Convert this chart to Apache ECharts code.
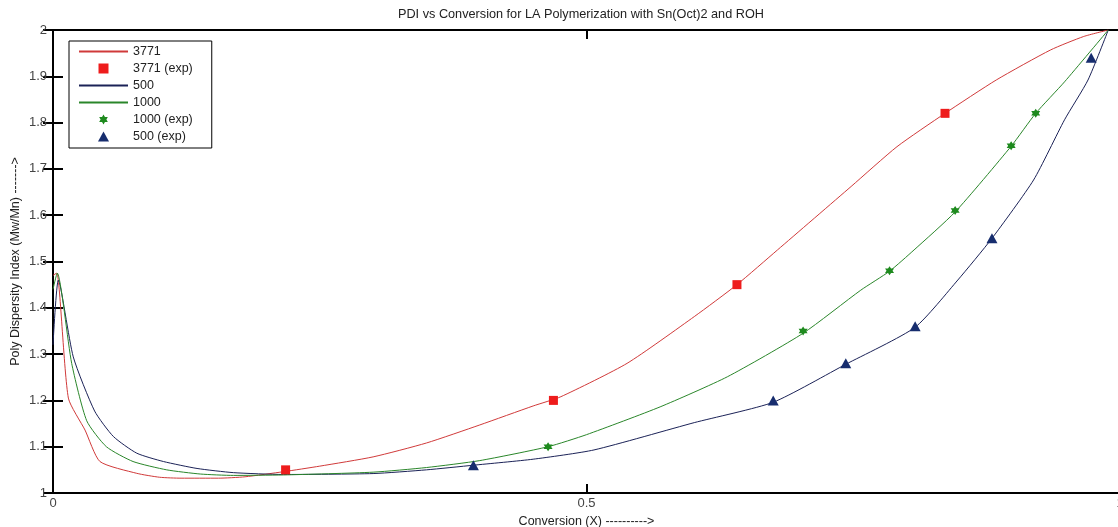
<!DOCTYPE html>
<html>
<head>
<meta charset="utf-8">
<style>
  html, body { margin: 0; padding: 0; background: #fff; }
  #chart { width: 1118px; height: 527px; }
</style>
<script src="https://cdn.jsdelivr.net/npm/echarts@6/dist/echarts.min.js"></script>
</head>
<body>
<div id="chart"></div>
<script>
// Model curves: PDI vs conversion for three [M]/[I] ratios
const x3771 = [0, 0.0035, 0.0144, 0.030, 0.044, 0.0785, 0.100, 0.120, 0.155, 0.180, 0.216, 0.250, 0.300, 0.350, 0.400, 0.450, 0.476, 0.538, 0.601, 0.641, 0.679, 0.748, 0.791, 0.836, 0.884, 0.935, 0.966, 0.989];
const y3771 = [1.47, 1.475, 1.205, 1.136, 1.068, 1.0425, 1.034, 1.032, 1.032, 1.035, 1.046, 1.058, 1.078, 1.108, 1.147, 1.188, 1.208, 1.280, 1.381, 1.450, 1.525, 1.662, 1.748, 1.820, 1.892, 1.957, 1.986, 2.000];

const x1000 = [0, 0.004, 0.0175, 0.0316, 0.050, 0.075, 0.1066, 0.138, 0.169, 0.216, 0.300, 0.350, 0.400, 0.464, 0.500, 0.569, 0.632, 0.703, 0.757, 0.784, 0.807, 0.8455, 0.898, 0.921, 0.948, 0.989];
const y1000 = [1.44, 1.475, 1.280, 1.156, 1.100, 1.068, 1.050, 1.041, 1.038, 1.039, 1.045, 1.055, 1.070, 1.100, 1.126, 1.186, 1.251, 1.345, 1.438, 1.479, 1.525, 1.607, 1.749, 1.820, 1.888, 2.000];

const x500 = [0, 0.005, 0.019, 0.039, 0.0566, 0.0785, 0.1035, 0.135, 0.169, 0.216, 0.300, 0.350, 0.394, 0.450, 0.507, 0.601, 0.675, 0.743, 0.808, 0.848, 0.880, 0.919, 0.948, 0.970, 0.989];
const y500 = [1.32, 1.46, 1.294, 1.177, 1.122, 1.086, 1.068, 1.053, 1.044, 1.040, 1.042, 1.050, 1.060, 1.073, 1.093, 1.152, 1.196, 1.278, 1.358, 1.460, 1.550, 1.676, 1.806, 1.892, 2.000];

// Experimental points
const xExp3771 = [0.218, 0.469, 0.641, 0.836];
const yExp3771 = [1.05, 1.20, 1.45, 1.82];

const xExp1000 = [0.464, 0.703, 0.784, 0.8455, 0.898, 0.921];
const yExp1000 = [1.10, 1.35, 1.48, 1.61, 1.75, 1.82];

const xExp500 = [0.394, 0.675, 0.743, 0.808, 0.880, 0.973];
const yExp500 = [1.06, 1.20, 1.28, 1.36, 1.55, 1.94];

const seriesNames = ['3771', '3771 (exp)', '500', '1000', '1000 (exp)', '500 (exp)'];
const lineNames = ['3771', '500', '1000'];
const yTicks = [1, 1.1, 1.2, 1.3, 1.4, 1.5, 1.6, 1.7, 1.8, 1.9, 2];
const xTicks = [0, 0.5, 1];

const pairs = (xs, ys) => xs.map((x, i) => [x, ys[i]]);

const squarePath = 'path://M0,0 L10,0 L10,10 L0,10 Z';
const trianglePath = 'path://M5,0 L10.5,10 L-0.5,10 Z';
const starPath = 'path://M0,-10 L2.9,-5 L8.66,-5 L5.8,0 L8.66,5 L2.9,5 L0,10 L-2.9,5 L-8.66,5 L-5.8,0 L-8.66,-5 L-2.9,-5 Z';
const FONT = '"Liberation Sans", Arial, sans-serif';

const chart = echarts.init(document.getElementById('chart'), null, { renderer: 'canvas' });

const fmtY = v => {
  const hit = yTicks.find(t => Math.abs(t - v) < 1e-6);
  return hit === undefined ? '' : String(hit);
};
const fmtX = v => {
  const hit = xTicks.find(t => Math.abs(t - v) < 1e-6);
  return hit === undefined ? '' : String(hit);
};

const axisLine = { show: true, lineStyle: { color: '#000', width: 2 } };
const tickStyle = { color: '#000', width: 2 };

// Legend entries: model lines show only a stroke, experiments show their marker
const legendIcons = { '3771 (exp)': squarePath, '1000 (exp)': starPath, '500 (exp)': trianglePath };
const legendData = seriesNames.map(name =>
  lineNames.includes(name)
    ? { name, itemStyle: { color: 'rgba(0,0,0,0)', borderWidth: 0, opacity: 0 } }
    : { name, icon: legendIcons[name] }
);

const lineSeries = (name, xs, ys, color) => ({
  name, type: 'line', data: pairs(xs, ys),
  symbol: 'none', smooth: 0.2,
  lineStyle: { color, width: 1 }, itemStyle: { color }, z: 2
});

chart.setOption({
  animation: false,
  backgroundColor: '#fff',
  textStyle: { fontFamily: FONT },
  title: {
    text: 'PDI vs Conversion for LA Polymerization with Sn(Oct)2 and ROH',
    left: 398,
    top: 8,
    padding: 0,
    textStyle: { fontSize: 12.7, fontWeight: 'normal', color: '#222', fontFamily: FONT }
  },
  legend: {
    orient: 'vertical',
    left: 69,
    top: 41,
    padding: [4, 19, 5, 9],
    itemWidth: 49,
    itemHeight: 10,
    itemGap: 4,
    symbolKeepAspect: true,
    backgroundColor: '#fff',
    borderColor: '#000',
    borderWidth: 1,
    borderRadius: 0,
    data: legendData,
    textStyle: { fontSize: 12.5, color: '#222', fontFamily: FONT }
  },
  grid: { left: 53, right: -2, top: 30, bottom: 34, containLabel: false, outerBoundsMode: 'none' },
  xAxis: [{
    type: 'value',
    min: 0, max: 1, interval: 0.5,
    name: 'Conversion (X) ---------->',
    nameLocation: 'middle',
    nameGap: 22,
    nameMoveOverlap: false,
    nameTextStyle: { fontSize: 12.5, color: '#222', fontFamily: FONT },
    axisLine,
    axisTick: { show: true, inside: true, length: 9, lineStyle: tickStyle },
    axisLabel: { fontSize: 13, color: '#444', margin: 4, formatter: fmtX, fontFamily: FONT },
    splitLine: { show: false }
  }, {
    type: 'value',
    position: 'top',
    min: 0, max: 1, interval: 0.5,
    axisLine,
    axisTick: { show: true, inside: true, length: 9, lineStyle: tickStyle },
    axisLabel: { show: false },
    splitLine: { show: false }
  }],
  yAxis: [{
    type: 'value',
    min: 1, max: 2, interval: 0.1,
    name: 'Poly Dispersity Index (Mw/Mn) ------->',
    nameLocation: 'middle',
    nameGap: 31,
    nameMoveOverlap: false,
    nameTextStyle: { fontSize: 12.5, color: '#222', fontFamily: FONT },
    axisLine,
    axisTick: { show: true, inside: true, length: 10, lineStyle: tickStyle },
    axisLabel: { fontSize: 13, color: '#444', margin: 6, formatter: fmtY, fontFamily: FONT },
    splitLine: { show: false }
  }, {
    type: 'value',
    position: 'right',
    min: 1, max: 2, interval: 0.1,
    axisLine,
    axisTick: { show: true, inside: true, length: 10, lineStyle: tickStyle },
    axisLabel: { show: false },
    splitLine: { show: false }
  }],
  series: [
    lineSeries('3771', x3771, y3771, '#d03a3a'),
    {
      name: '3771 (exp)', type: 'scatter', data: pairs(xExp3771, yExp3771),
      symbol: squarePath, symbolSize: 9,
      itemStyle: { color: '#ee1c1c', opacity: 1 }, z: 5
    },
    lineSeries('500', x500, y500, '#1b2257'),
    lineSeries('1000', x1000, y1000, '#2a862a'),
    {
      name: '1000 (exp)', type: 'scatter', data: pairs(xExp1000, yExp1000),
      symbol: starPath, symbolSize: 9,
      itemStyle: { color: '#1e8a1e', opacity: 1 }, z: 5
    },
    {
      name: '500 (exp)', type: 'scatter', data: pairs(xExp500, yExp500),
      symbol: trianglePath, symbolSize: [11, 10],
      itemStyle: { color: '#172d6e', opacity: 1 }, z: 5
    }
  ]
});
</script>
</body>
</html>
